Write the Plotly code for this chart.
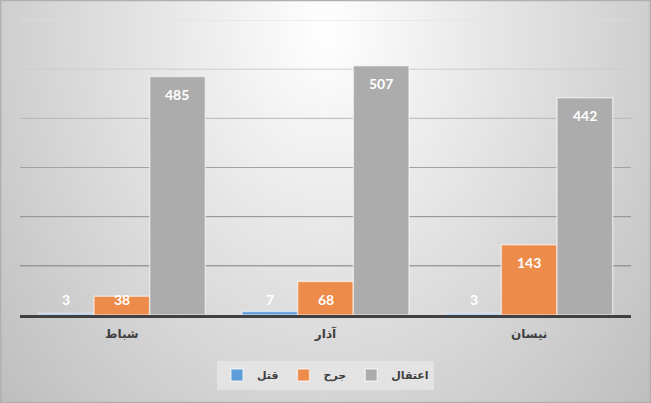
import base64
import plotly.graph_objects as go

# ---- data ----
categories = ["شباط", "آذار", "نيسان"]
series_names = ["قتل", "جرح", "اعتقال"]
killed = [3, 7, 3]
injured = [38, 68, 143]
arrested = [485, 507, 442]
series_values = [killed, injured, arrested]
colors = ["#5f9dd8", "#ed8b4b", "#acacac"]
grid_values = [100, 200, 300, 400, 500, 600]
grid_colors = ["#7c7c7c", "#8e8e8e", "#a2a2a2", "#b6b6b6", "#cecece", "#e0e0e0"]

W, H = 651, 403
x_dom = [20 / W, 631 / W]
y_dom = [(H - 315) / H, (H - 20) / H]
y_max = 600
bargap = 0.18

# radial gradient background as an SVG image
svg = (
    f'<svg xmlns="http://www.w3.org/2000/svg" width="{W}" height="{H}">'
    '<defs><radialGradient id="g" gradientUnits="userSpaceOnUse" cx="326" cy="30" r="460" '
    'gradientTransform="translate(326 30) scale(1 1.3) translate(-326 -30)">'
    '<stop offset="0" stop-color="#ffffff"/><stop offset="1" stop-color="#bababa"/>'
    '</radialGradient></defs>'
    f'<rect width="{W}" height="{H}" fill="url(#g)"/></svg>'
)
bg_uri = "data:image/svg+xml;base64," + base64.b64encode(svg.encode()).decode()

fig = go.Figure()

for name, vals, col in zip(series_names, series_values, colors):
    fig.add_trace(go.Bar(
        x=categories, y=vals, name=name,
        marker=dict(color=col, line=dict(color="rgba(255,255,255,0.55)", width=1.5)),
    ))

# gridlines
shapes = []
for gv, gc in zip(grid_values, grid_colors):
    shapes.append(dict(type="line", xref="x domain", yref="y", x0=0, x1=1, y0=gv, y1=gv,
                       line=dict(color=gc, width=1), layer="below"))
# chart border
shapes.append(dict(type="rect", xref="paper", yref="paper", x0=0.001, x1=0.999, y0=0.001, y1=0.999,
                   line=dict(color="#b0b0b0", width=1.5), layer="above"))

# data labels
plot_w = (x_dom[1] - x_dom[0]) * W
cat_w = plot_w / len(categories)
bar_w = cat_w * (1 - bargap) / len(series_names)
annotations = []
for si, vals in enumerate(series_values):
    for ci, v in enumerate(vals):
        annotations.append(dict(
            x=categories[ci], y=max(v, 67), xref="x", yref="y",
            text=f"<b>{v}</b>", showarrow=False, yanchor="top", yshift=-7,
            xshift=(si - 1) * bar_w,
            font=dict(family="Lato", size=14, color="white"),
        ))

fig.update_layout(
    width=W, height=H,
    margin=dict(l=0, r=0, t=0, b=0),
    paper_bgcolor="#d8d8d8",
    plot_bgcolor="rgba(0,0,0,0)",
    images=[dict(source=bg_uri, xref="paper", yref="paper", x=0, y=1, sizex=1, sizey=1,
                 sizing="stretch", xanchor="left", yanchor="top", layer="below")],
    bargap=bargap, bargroupgap=0, barmode="group",
    xaxis=dict(domain=x_dom, showgrid=False, showline=True, linecolor="#404040",
               linewidth=3, ticks="outside", ticklen=6, tickcolor="rgba(0,0,0,0)",
               tickfont=dict(family="DejaVu Sans", size=12, color="#404040", weight="bold"),
               fixedrange=True),
    yaxis=dict(domain=y_dom, range=[0, y_max], showgrid=False, zeroline=False,
               showticklabels=False, showline=False, fixedrange=True),
    legend=dict(orientation="h", x=0.5, xanchor="center", y=(H - 375) / H, yanchor="middle",
                bgcolor="#e3e3e3", font=dict(family="DejaVu Sans", size=11, color="#404040", weight="bold"),
                traceorder="normal", itemwidth=30),
    shapes=shapes,
    annotations=annotations,
    showlegend=True,
)

fig.write_html(
    "out.html",
    config={"displayModeBar": False},
    post_script="document.body.style.margin='0';document.body.style.overflow='hidden';",
)
